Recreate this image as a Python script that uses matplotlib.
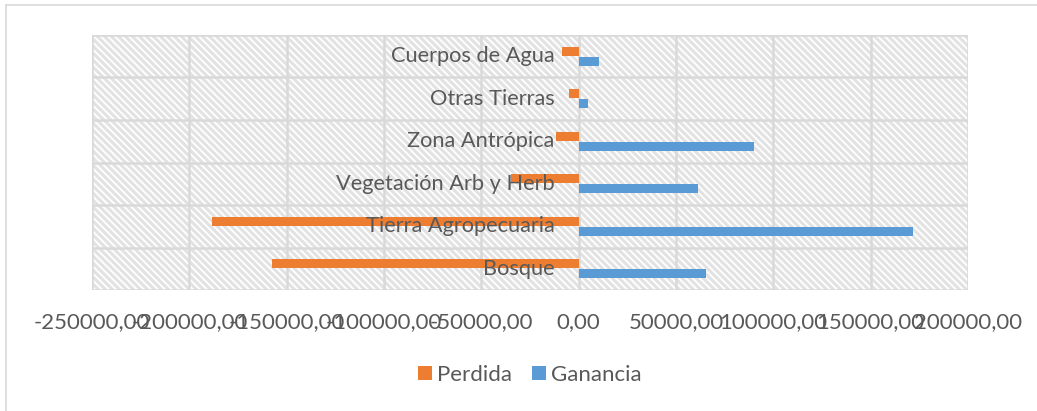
import matplotlib.pyplot as plt
from matplotlib.collections import LineCollection
from matplotlib.lines import Line2D
from matplotlib.ticker import FuncFormatter
import matplotlib.transforms as mtransforms
import numpy as np

categorias = ['Bosque', 'Tierra Agropecuaria', 'Vegetación Arb y Herb',
              'Zona Antrópica', 'Otras Tierras', 'Cuerpos de Agua']
perdida = [-157600, -188400, -34900, -11800, -4800, -8700]
ganancia = [65400, 171500, 61300, 90200, 4600, 10600]
ticks_x = [-250000, -200000, -150000, -100000, -50000, 0, 50000, 100000, 150000, 200000]

naranja = '#ED7D31'
azul = '#5B9BD5'
gris_txt = '#595959'
gris_lin = '#D9D9D9'

plt.rcParams['font.family'] = ['Lato', 'DejaVu Sans']

W, H = 1037, 411
fig = plt.figure(figsize=(W / 100, H / 100), dpi=100)
izq, der, arr, aba = 92, 968, 35, 290
ax = fig.add_axes([izq / W, 1 - aba / H, (der - izq) / W, (aba - arr) / H])

# rayado diagonal del fondo (cada 7 px)
ancho_px, alto_px = der - izq, aba - arr
paso = 7 / ancho_px
inclin = alto_px / ancho_px
segs = [[(x0, 1), (x0 + inclin, 0)] for x0 in np.arange(-inclin, 1 + paso, paso)]
rayas = LineCollection(segs, colors='#E2E2E2', linewidths=2.2, transform=ax.transAxes,
                       zorder=0.5)
ax.add_collection(rayas)
rayas.set_clip_path(ax.patch)

y = np.arange(len(categorias))
alto = 0.21
ax.barh(y + alto / 2 + 0.01, perdida, height=alto, color=naranja, label='Perdida', zorder=3)
ax.barh(y - alto / 2 - 0.01, ganancia, height=alto, color=azul, label='Ganancia', zorder=3)

ax.set_xlim(-250000, 200000)
ax.set_ylim(-0.5, len(categorias) - 0.5)
ax.set_xticks(ticks_x)
ax.xaxis.set_major_formatter(FuncFormatter(lambda v, p: f'{v:.2f}'.replace('.', ',')))
ax.tick_params(axis='x', length=0, labelsize=16, labelcolor=gris_txt, pad=16)
ax.set_yticks([])

# lineas de cuadricula
for xv in ticks_x:
    ax.axvline(xv, color=gris_lin, linewidth=1.8, zorder=1)
for yv in np.arange(-0.5, len(categorias), 1.0):
    ax.axhline(yv, color=gris_lin, linewidth=1.8, zorder=1)
for s in ax.spines.values():
    s.set_visible(False)

# etiquetas de categoria junto al eje cero
desplaza = mtransforms.offset_copy(ax.transData, fig=fig, x=-24, y=0, units='dots')
for yi, nombre in zip(y, categorias):
    ax.text(0, yi, nombre, transform=desplaza, ha='right', va='center',
            fontsize=15.7, color=gris_txt, zorder=4)

leg = fig.legend(loc='center', bbox_to_anchor=(0.511, 1 - 375 / H), ncol=2, frameon=False,
                 fontsize=16, handlelength=0.62, handleheight=0.62, handletextpad=0.25,
                 columnspacing=0.9)
for t in leg.get_texts():
    t.set_color(gris_txt)

# borde del grafico
fig.add_artist(Line2D([6 / W, 1], [1 - 5 / H, 1 - 5 / H], color=gris_lin, linewidth=1.2))
fig.add_artist(Line2D([6 / W, 6 / W], [0, 1 - 5 / H], color=gris_lin, linewidth=1.2))

fig.savefig('out.png', dpi=100)
